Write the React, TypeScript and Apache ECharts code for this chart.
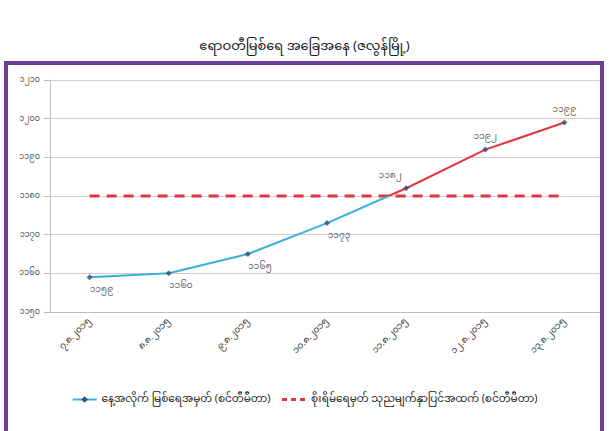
import React, { useEffect, useRef } from "react";
import * as echarts from "echarts";

const title = "ဧရာဝတီမြစ်ရေ အခြေအနေ (ဇလွန်မြို့)";
const categories = [
  "၇.၈.၂၀၁၅",
  "၈.၈.၂၀၁၅",
  "၉.၈.၂၀၁၅",
  "၁၀.၈.၂၀၁၅",
  "၁၁.၈.၂၀၁၅",
  "၁၂.၈.၂၀၁၅",
  "၁၃.၈.၂၀၁၅",
];
const levelName = "နေ့အလိုက် မြစ်ရေအမှတ် (စင်တီမီတာ)";
const dangerName = "စိုးရိမ်ရေမှတ် သုညမျက်နှာပြင်အထက် (စင်တီမီတာ)";
const levels = [1159, 1160, 1165, 1173, 1182, 1192, 1199];
const dangerLevel = 1180;
const yMin = 1150;
const yMax = 1210;
const yStep = 10;

const toMy = (v: number | string) =>
  String(v).replace(/\d/g, (d) => String.fromCharCode(0x1040 + Number(d)));

const FONT = "'Noto Sans Myanmar', Padauk, 'Myanmar Text', 'Noto Sans', sans-serif";

const W = 609;
const H = 431;
const GRID_TOP = 80;
const GRID_BOTTOM = 119;
const BLUE = "#3aafd9";
const RED = "#e0353f";
const MARK = "#34506e";

export default function App() {
  const ref = useRef<HTMLDivElement>(null);
  useEffect(() => {
    document.body.style.margin = "0";
    if (!ref.current) return;
    const chart = echarts.init(ref.current, undefined, { renderer: "svg" });
    const labelPos = levels.map((_, i) => (i < 4 ? "bottom" : "top"));
    const labelOffset = levels.map((_, i) =>
      i < 4 ? [12, 0] : i === 4 ? [-16, 0] : [0, 0]
    );
    const split = (yMax - dangerLevel) / (yMax - yMin);
    const lineGrad = new echarts.graphic.LinearGradient(
      0,
      GRID_TOP,
      0,
      H - GRID_BOTTOM,
      [
        { offset: 0, color: RED },
        { offset: split, color: RED },
        { offset: split, color: BLUE },
        { offset: 1, color: BLUE },
      ],
      true
    );
    chart.setOption({
      animation: false,
      backgroundColor: "#ffffff",
      textStyle: { fontFamily: FONT },
      title: {
        text: title,
        left: "center",
        top: 35,
        textStyle: { fontSize: 13, fontWeight: "normal", color: "#1a1a1a", fontFamily: FONT },
      },
      graphic: [
        {
          type: "rect",
          shape: { x: 6, y: 63, width: 596, height: 380 },
          style: { fill: "none", stroke: "#6a3d9a", lineWidth: 4 },
          silent: true,
          z: 100,
        },
      ],
      grid: { left: 50, right: 5, top: GRID_TOP, bottom: GRID_BOTTOM, containLabel: false },
      legend: {
        top: 389,
        left: "center",
        itemWidth: 24,
        itemHeight: 8,
        itemGap: 10,
        textStyle: { fontSize: 10.5, color: "#222", fontFamily: FONT },
        data: [
          {
            name: levelName,
            itemStyle: { color: MARK, borderColor: MARK },
            lineStyle: { color: BLUE, width: 2 },
          },
          {
            name: dangerName,
            itemStyle: { opacity: 0 },
            lineStyle: { color: RED, width: 3, type: [5, 4] },
          },
        ],
      },
      xAxis: {
        type: "category",
        data: categories,
        boundaryGap: true,
        axisLine: { lineStyle: { color: "#bdbdbd" } },
        axisTick: { lineStyle: { color: "#bdbdbd" } },
        axisLabel: {
          rotate: 45,
          fontSize: 9,
          color: "#333",
          margin: 8,
          fontFamily: FONT,
        },
      },
      yAxis: {
        type: "value",
        min: yMin,
        max: yMax,
        interval: yStep,
        axisLine: { show: true, lineStyle: { color: "#bdbdbd" } },
        axisTick: { show: true, length: 6, lineStyle: { color: "#bdbdbd" } },
        splitLine: { lineStyle: { color: "#cfcfcf" } },
        axisLabel: {
          fontSize: 8,
          color: "#555",
          margin: 10,
          formatter: (v: number) => toMy(v),
          fontFamily: FONT,
        },
      },
      series: [
        {
          name: levelName,
          type: "line",
          data: levels,
          itemStyle: { color: MARK, borderColor: MARK },
          symbol: "diamond",
          symbolSize: 6,
          showSymbol: false,
          lineStyle: { width: 2, color: lineGrad },
          z: 3,
        },
        {
          name: "markers",
          type: "scatter",
          data: levels.map((v, i) => ({
            value: v,
            label: {
              show: true,
              position: labelPos[i],
              offset: labelOffset[i],
              formatter: () => toMy(v),
              fontSize: 9,
              color: "#333",
              fontFamily: FONT,
            },
          })),
          symbol: "diamond",
          symbolSize: 6,
          itemStyle: { color: MARK },
          z: 4,
        },
        {
          name: dangerName,
          type: "line",
          data: categories.map((_, i) => ({
            value: dangerLevel,
            label:
              i === 0
                ? {
                    show: true,
                    position: "top",
                    offset: [-12, 0],
                    formatter: () => toMy(dangerLevel),
                    fontSize: 9,
                    color: "#333",
                    fontFamily: FONT,
                  }
                : { show: false },
          })),
          itemStyle: { color: RED },
          symbol: "none",
          lineStyle: { width: 3, type: [10, 7], color: RED },
          z: 2,
        },
      ],
    });
    return () => chart.dispose();
  }, []);
  return <div ref={ref} style={{ width: W, height: H }} />;
}
